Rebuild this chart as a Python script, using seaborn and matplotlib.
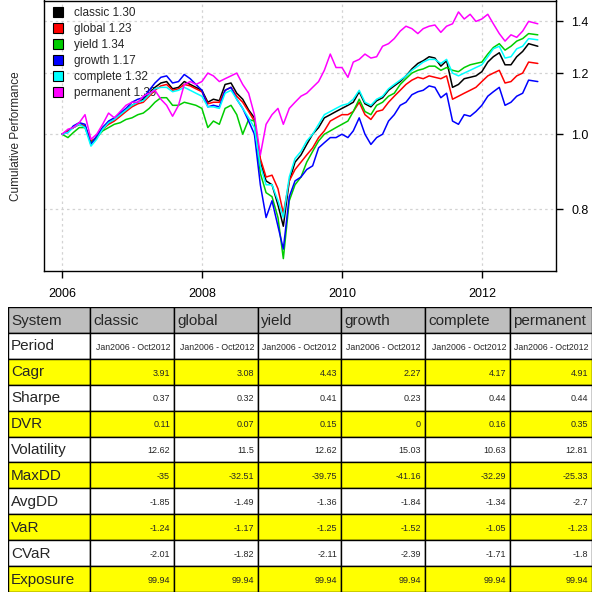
import pandas as pd
import matplotlib
matplotlib.use("Agg")
import matplotlib.pyplot as plt
import matplotlib.dates as mdates
from matplotlib.patches import Patch, Rectangle
from matplotlib.ticker import NullLocator
import seaborn as sns

# monthly samples, Jan 2006 .. Oct 2012
dates = list(pd.date_range("2006-01-01", "2012-10-01", freq="MS"))
dates[-1] = pd.Timestamp("2012-10-19")

classic = [
    1.00, 1.01, 1.02, 1.03, 1.025, 0.975, 0.99, 1.02, 1.035, 1.045, 1.06, 1.075,
    1.09, 1.10, 1.11, 1.13, 1.15, 1.165, 1.17, 1.145, 1.15, 1.17, 1.16, 1.15,
    1.14, 1.10, 1.11, 1.105, 1.16, 1.165, 1.13, 1.11, 1.075, 1.05, 0.92, 0.87,
    0.86, 0.81, 0.76, 0.87, 0.92, 0.94, 0.97, 1.00, 1.02, 1.05, 1.06, 1.07,
    1.08, 1.09, 1.10, 1.135, 1.095, 1.085, 1.105, 1.115, 1.14, 1.155, 1.17, 1.19,
    1.215, 1.235, 1.245, 1.26, 1.255, 1.225, 1.245, 1.15, 1.16, 1.18, 1.185, 1.19,
    1.205, 1.24, 1.26, 1.275, 1.23, 1.23, 1.26, 1.28, 1.31, 1.30]
global_ = [
    1.00, 1.01, 1.02, 1.03, 1.025, 0.98, 0.99, 1.015, 1.03, 1.04, 1.055, 1.07,
    1.085, 1.095, 1.10, 1.12, 1.14, 1.155, 1.16, 1.14, 1.145, 1.16, 1.155, 1.145,
    1.135, 1.095, 1.10, 1.10, 1.14, 1.15, 1.12, 1.10, 1.07, 1.04, 0.93, 0.88,
    0.885, 0.85, 0.79, 0.87, 0.90, 0.92, 0.94, 0.96, 0.99, 1.01, 1.04, 1.05,
    1.06, 1.06, 1.07, 1.10, 1.06, 1.045, 1.07, 1.075, 1.10, 1.12, 1.14, 1.16,
    1.175, 1.185, 1.18, 1.19, 1.185, 1.18, 1.19, 1.11, 1.12, 1.13, 1.14, 1.15,
    1.17, 1.19, 1.20, 1.21, 1.165, 1.17, 1.19, 1.20, 1.24, 1.235]
yield_ = [
    1.00, 0.99, 1.005, 1.02, 1.02, 0.975, 0.99, 1.01, 1.02, 1.03, 1.035, 1.045,
    1.05, 1.06, 1.065, 1.08, 1.10, 1.115, 1.115, 1.09, 1.09, 1.10, 1.095, 1.09,
    1.08, 1.02, 1.04, 1.03, 1.08, 1.09, 1.06, 1.00, 1.045, 1.04, 0.89, 0.84,
    0.83, 0.78, 0.69, 0.82, 0.86, 0.88, 0.92, 0.95, 0.98, 1.00, 1.01, 1.02,
    1.03, 1.04, 1.07, 1.11, 1.07, 1.06, 1.09, 1.10, 1.12, 1.13, 1.16, 1.18,
    1.20, 1.21, 1.215, 1.225, 1.225, 1.21, 1.22, 1.21, 1.205, 1.22, 1.23, 1.235,
    1.24, 1.27, 1.295, 1.31, 1.285, 1.30, 1.32, 1.33, 1.35, 1.345]
growth = [
    1.00, 1.005, 1.025, 1.035, 1.03, 0.97, 0.995, 1.02, 1.04, 1.05, 1.065, 1.08,
    1.10, 1.11, 1.115, 1.14, 1.165, 1.185, 1.19, 1.165, 1.17, 1.195, 1.18, 1.16,
    1.14, 1.085, 1.09, 1.085, 1.14, 1.15, 1.11, 1.08, 1.04, 1.00, 0.86, 0.78,
    0.82, 0.76, 0.71, 0.83, 0.87, 0.88, 0.90, 0.91, 0.96, 0.975, 0.99, 0.99,
    1.00, 0.99, 1.01, 1.05, 1.00, 0.97, 0.99, 1.00, 1.04, 1.06, 1.09, 1.10,
    1.125, 1.135, 1.14, 1.155, 1.15, 1.115, 1.13, 1.04, 1.03, 1.06, 1.055, 1.07,
    1.09, 1.12, 1.135, 1.15, 1.09, 1.10, 1.12, 1.13, 1.175, 1.17]
complete = [
    1.00, 1.005, 1.02, 1.03, 1.02, 0.965, 0.985, 1.015, 1.035, 1.045, 1.06, 1.075,
    1.09, 1.10, 1.105, 1.125, 1.145, 1.15, 1.15, 1.135, 1.14, 1.15, 1.14, 1.13,
    1.12, 1.085, 1.085, 1.08, 1.13, 1.14, 1.11, 1.08, 1.05, 1.02, 0.91, 0.86,
    0.86, 0.82, 0.78, 0.88, 0.93, 0.95, 0.98, 1.00, 1.03, 1.06, 1.07, 1.08,
    1.09, 1.095, 1.11, 1.14, 1.10, 1.09, 1.11, 1.12, 1.145, 1.16, 1.175, 1.19,
    1.21, 1.225, 1.24, 1.25, 1.25, 1.235, 1.25, 1.20, 1.19, 1.20, 1.21, 1.22,
    1.23, 1.26, 1.29, 1.30, 1.255, 1.26, 1.29, 1.30, 1.33, 1.325]
permanent = [
    1.00, 1.015, 1.02, 1.035, 1.06, 0.985, 1.00, 1.03, 1.065, 1.05, 1.07, 1.09,
    1.10, 1.10, 1.12, 1.13, 1.14, 1.11, 1.09, 1.055, 1.09, 1.16, 1.17, 1.16,
    1.17, 1.20, 1.19, 1.17, 1.18, 1.19, 1.20, 1.16, 1.13, 1.06, 0.94, 1.03,
    1.06, 1.08, 1.03, 1.08, 1.10, 1.12, 1.13, 1.15, 1.17, 1.21, 1.27, 1.22,
    1.22, 1.185, 1.24, 1.25, 1.27, 1.255, 1.26, 1.30, 1.31, 1.33, 1.36, 1.38,
    1.37, 1.35, 1.37, 1.38, 1.385, 1.355, 1.38, 1.39, 1.44, 1.41, 1.43, 1.40,
    1.41, 1.43, 1.39, 1.35, 1.32, 1.345, 1.335, 1.36, 1.40, 1.39]

systems = ["classic", "global", "yield", "growth", "complete", "permanent"]
final_values = ["1.30", "1.23", "1.34", "1.17", "1.32", "1.39"]
colors = ["#000000", "#FF0000", "#00CD00", "#0000FF", "#00FFFF", "#FF00FF"]
y_ticks = [0.8, 1.0, 1.2, 1.4]
x_tick_years = ["2006", "2008", "2010", "2012"]

# summary table
row_labels = ["Period", "Cagr", "Sharpe", "DVR", "Volatility", "MaxDD",
              "AvgDD", "VaR", "CVaR", "Exposure"]
period = ["Jan2006 - Oct2012"] * 6
cagr = ["3.91", "3.08", "4.43", "2.27", "4.17", "4.91"]
sharpe = ["0.37", "0.32", "0.41", "0.23", "0.44", "0.44"]
dvr = ["0.11", "0.07", "0.15", "0", "0.16", "0.35"]
volatility = ["12.62", "11.5", "12.62", "15.03", "10.63", "12.81"]
maxdd = ["-35", "-32.51", "-39.75", "-41.16", "-32.29", "-25.33"]
avgdd = ["-1.85", "-1.49", "-1.36", "-1.84", "-1.34", "-2.7"]
var = ["-1.24", "-1.17", "-1.25", "-1.52", "-1.05", "-1.23"]
cvar = ["-2.01", "-1.82", "-2.11", "-2.39", "-1.71", "-1.8"]
exposure = ["99.94"] * 6
table_rows = [period, cagr, sharpe, dvr, volatility, maxdd, avgdd, var, cvar, exposure]

series = [classic, global_, yield_, growth, complete, permanent]
df = pd.concat(
    [pd.DataFrame({"date": dates, "value": s, "system": name})
     for name, s in zip(systems, series)],
    ignore_index=True,
)

sns.set_style("white")
plt.rcParams["font.family"] = ["Liberation Sans", "DejaVu Sans"]

fig = plt.figure(figsize=(6, 6), dpi=100)
ax = fig.add_axes([44 / 600, 1 - 271 / 600, 512 / 600, 270.5 / 600])

sns.lineplot(data=df, x="date", y="value", hue="system", hue_order=systems,
             palette=colors, linewidth=1.1, legend=False, ax=ax, zorder=3)

ax.set_yscale("log")
ax.set_ylim(0.665, 1.49)
ax.set_yticks(y_ticks)
ax.set_yticklabels([f"{v:.1f}" for v in y_ticks])
ax.yaxis.set_minor_locator(NullLocator())
ax.yaxis.tick_right()

xt = [mdates.date2num(pd.Timestamp(f"{y}-01-01")) for y in x_tick_years]
ax.set_xticks(xt)
ax.set_xticklabels(x_tick_years)
ax.set_xlim(mdates.date2num(pd.Timestamp("2005-09-29")),
            mdates.date2num(pd.Timestamp("2013-01-22")))

for t in xt:
    ax.axvline(t, color="#D3D3D3", lw=0.9, ls=(0, (2, 2.5)), zorder=0)
for v in y_ticks:
    ax.axhline(v, color="#D3D3D3", lw=0.9, ls=(0, (2, 2.5)), zorder=0)

ax.tick_params(axis="both", direction="out", length=5, width=1, colors="black",
               labelsize=9)
ax.tick_params(axis="x", pad=7, bottom=True)
ax.tick_params(axis="y", pad=6, right=True)
for sp in ax.spines.values():
    sp.set_color("black")
    sp.set_linewidth(1)

ax.set_xlabel("")
ax.set_ylabel("Cumulative Performance", fontsize=8.5)
ax.yaxis.set_label_position("left")
ax.yaxis.set_label_coords(-0.043, 0.5)

handles = [Patch(facecolor=c, edgecolor="black", linewidth=0.8) for c in colors]
labels = [f"{s} {v}" for s, v in zip(systems, final_values)]
leg = ax.legend(handles, labels, loc="upper left", bbox_to_anchor=(0.017, 0.975),
                frameon=False, fontsize=8.5, borderaxespad=0, borderpad=0,
                handlelength=0.9, handleheight=0.9, handletextpad=0.9,
                labelspacing=0.33)
leg.set_zorder(1)

# table
tab = fig.add_axes([8 / 600, 1 - 592 / 600, 584 / 600, 285 / 600])
tab.set_xlim(0, 584)
tab.set_ylim(11, 0)
tab.axis("off")
col_edges = [0, 82, 166, 250, 333, 417, 502, 584]
header = ["System"] + systems
for j, name in enumerate(header):
    x0, x1 = col_edges[j], col_edges[j + 1]
    tab.add_patch(Rectangle((x0, 0), x1 - x0, 1, facecolor="#BEBEBE",
                            edgecolor="black", lw=1))
    tab.text(x0 + 3, 0.55, name, fontsize=11, ha="left", va="center")
for i, (lab, vals) in enumerate(zip(row_labels, table_rows), start=1):
    fill = "#FFFF00" if i % 2 == 0 else "white"
    for j in range(7):
        x0, x1 = col_edges[j], col_edges[j + 1]
        tab.add_patch(Rectangle((x0, i), x1 - x0, 1, facecolor=fill,
                                edgecolor="black", lw=1))
    tab.text(3, i + 0.52, lab, fontsize=11, ha="left", va="center")
    for j, v in enumerate(vals, start=1):
        fs = 6.3 if lab == "Period" else 6.5
        tab.text(col_edges[j + 1] - 4, i + 0.55, v, fontsize=fs,
                 ha="right", va="center")

fig.savefig("out.png", dpi=100)
